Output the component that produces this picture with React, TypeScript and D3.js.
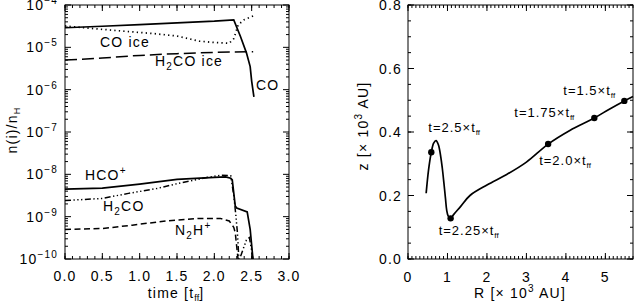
import React, { useEffect, useRef } from "react";
import * as d3 from "d3";

// left panel: abundances n(i)/n_H against time [t_ff]
const coTime = [0, 0.5, 1.0, 1.5, 2.0, 2.26, 2.35, 2.43, 2.48, 2.5, 2.53];
const coGas = [2.9e-5, 3.15e-5, 3.45e-5, 3.8e-5, 4.15e-5, 4.45e-5, 1.8e-5, 7.4e-6, 3.5e-6, 1.6e-6, 6.8e-7];

const coIceTime = [0, 0.4, 0.8, 1.2, 1.5, 1.8, 2.0, 2.2, 2.26, 2.32, 2.4, 2.52];
const coIce = [3.2e-5, 2.75e-5, 2.4e-5, 2.1e-5, 1.85e-5, 1.4e-5, 1.3e-5, 1.25e-5, 1.6e-5, 3.4e-5, 4.5e-5, 5.5e-5];

const h2coIceTime = [0, 0.5, 1.0, 1.5, 2.0, 2.52];
const h2coIce = [5.0e-6, 5.6e-6, 6.45e-6, 7.1e-6, 7.6e-6, 7.9e-6];

const hcoTime = [0, 0.5, 1.0, 1.5, 2.0, 2.15, 2.22, 2.24, 2.28, 2.3, 2.44, 2.48, 2.52];
const hcoPlus = [4.45e-9, 4.7e-9, 5.9e-9, 7.6e-9, 8.5e-9, 8.7e-9, 8.1e-9, 7.4e-9, 1.8e-9, 1.6e-9, 1.3e-9, 5e-10, 9e-11];

const h2coTime = [0, 0.5, 0.85, 1.25, 1.55, 1.85, 2.08, 2.22, 2.26, 2.29, 2.31, 2.33, 2.38, 2.43, 2.47, 2.5, 2.52];
const h2coGas = [2.4e-9, 2.7e-9, 3.55e-9, 4.7e-9, 6.3e-9, 8.1e-9, 9.5e-9, 9.3e-9, 3.2e-9, 1.0e-9, 4e-10, 9e-11, 1.6e-10, 2.8e-10, 3.2e-10, 1.6e-10, 9e-11];

const n2hTime = [0, 0.5, 0.9, 1.35, 1.8, 2.08, 2.2, 2.26, 2.28, 2.3, 2.32];
const n2hPlus = [5.0e-10, 5.25e-10, 6.3e-10, 7.9e-10, 9.1e-10, 9.1e-10, 7.9e-10, 5.6e-10, 4.2e-10, 1.95e-10, 9e-11];

const timeTicks = [0, 0.5, 1.0, 1.5, 2.0, 2.5, 3.0];
const decadeTicks = [-10, -9, -8, -7, -6, -5, -4];

// right panel: track in the R-z plane [10^3 AU]
const trackR = [0.46, 0.52, 0.59, 0.65, 0.71, 0.77, 0.83, 0.87, 0.91, 0.95, 0.98, 1.02, 1.08, 1.15, 1.33, 1.57, 2.0, 2.5, 3.0, 3.55, 4.1, 4.72, 5.1, 5.48, 5.7];
const trackZ = [0.207, 0.28, 0.336, 0.365, 0.373, 0.36, 0.322, 0.285, 0.239, 0.19, 0.154, 0.135, 0.128, 0.139, 0.165, 0.2, 0.233, 0.266, 0.305, 0.362, 0.405, 0.444, 0.472, 0.498, 0.512];

const markerR = [5.48, 4.72, 3.55, 1.08, 0.59];
const markerZ = [0.498, 0.444, 0.362, 0.128, 0.336];
const markerTime = ["1.5", "1.75", "2.0", "2.25", "2.5"];

const rTicks = [0, 1, 2, 3, 4, 5];
const zTicks = [0.0, 0.2, 0.4, 0.6, 0.8];

export default function App() {
    const svgRef = useRef(null);

    useEffect(() => {
        const svg = d3.select(svgRef.current);
        svg.selectAll("*").remove();

        const font = "'Liberation Sans', Arial, Helvetica, sans-serif";
        const fs = 14;
        svg.attr("font-family", font).attr("font-size", fs).attr("letter-spacing", 1.2);

        //helper: draw box with inward ticks on all sides
        const frame = (x, y, xMaj, xMin, yMaj, yMin, majLen, minLen) => {
            const [x0, x1] = x.range();
            const [y0, y1] = y.range();
            const g = svg.append("g").attr("stroke", "#000").attr("stroke-width", 1);
            g.append("rect").attr("x", x0).attr("y", y1).attr("width", x1 - x0).attr("height", y0 - y1).attr("fill", "none");
            const tick = (v, len, axis) => {
                if (axis === "x") {
                    const px = x(v);
                    g.append("line").attr("x1", px).attr("x2", px).attr("y1", y0).attr("y2", y0 - len);
                    g.append("line").attr("x1", px).attr("x2", px).attr("y1", y1).attr("y2", y1 + len);
                } else {
                    const py = y(v);
                    g.append("line").attr("y1", py).attr("y2", py).attr("x1", x0).attr("x2", x0 + len);
                    g.append("line").attr("y1", py).attr("y2", py).attr("x1", x1).attr("x2", x1 - len);
                }
            };
            xMin.forEach((v) => tick(v, minLen, "x"));
            xMaj.forEach((v) => tick(v, majLen, "x"));
            yMin.forEach((v) => tick(v, minLen, "y"));
            yMaj.forEach((v) => tick(v, majLen, "y"));
        };

        // ---------- left panel ----------
        const xL = d3.scaleLinear().domain([0, 3]).range([65, 289]);
        const yL = d3.scaleLog().domain([1e-10, 1e-4]).range([259, 5]);

        const minorLogs = [];
        decadeTicks.slice(0, -1).forEach((d) => {
            for (let k = 2; k <= 9; k++) minorLogs.push(k * Math.pow(10, d));
        });
        frame(xL, yL,
            timeTicks,
            d3.range(0, 31).map((i) => i / 10),
            decadeTicks.map((d) => Math.pow(10, d)),
            minorLogs, 6, 3);

        svg.append("clipPath").attr("id", "clipL")
            .append("rect").attr("x", 65).attr("y", 5).attr("width", 224).attr("height", 254);

        const lineL = d3.line().x((d) => xL(d[0])).y((d) => yL(d[1]));
        const seriesL = [
            { t: coTime, v: coGas, dash: null, w: 1.7 },
            { t: coIceTime, v: coIce, dash: "1.3 3.2", w: 1.7 },
            { t: h2coIceTime, v: h2coIce, dash: "12 5", w: 1.5 },
            { t: hcoTime, v: hcoPlus, dash: null, w: 1.7 },
            { t: h2coTime, v: h2coGas, dash: "6 2.5 1.3 2.5 1.3 2.5 1.3 2.5", w: 1.5 },
            { t: n2hTime, v: n2hPlus, dash: "6 3.5", w: 1.5 },
        ];
        const gl = svg.append("g").attr("clip-path", "url(#clipL)");
        seriesL.forEach((s) => {
            gl.append("path")
                .datum(s.t.map((t, i) => [t, s.v[i]]))
                .attr("fill", "none")
                .attr("stroke", "#000")
                .attr("stroke-width", s.w)
                .attr("stroke-dasharray", s.dash)
                .attr("d", lineL);
        });

        //tick labels
        timeTicks.forEach((t) => {
            svg.append("text").attr("x", xL(t)).attr("y", 281).attr("text-anchor", "middle").text(t.toFixed(1));
        });
        decadeTicks.forEach((d) => {
            const tx = svg.append("text").attr("x", 58).attr("y", yL(Math.pow(10, d)) + 5).attr("text-anchor", "end");
            tx.append("tspan").text("10");
            tx.append("tspan").attr("dy", -6).attr("font-size", 10).text("\u2212" + Math.abs(d));
        });

        //axis titles
        const xt = svg.append("text").attr("x", 176).attr("y", 298).attr("text-anchor", "middle");
        xt.append("tspan").text("time [t");
        xt.append("tspan").attr("dy", 3).attr("font-size", 9).attr("letter-spacing", 0).text("ff");
        xt.append("tspan").attr("dy", -3).text("]");

        const yt = svg.append("text").attr("transform", "translate(17,130) rotate(-90)").attr("text-anchor", "middle");
        yt.append("tspan").text("n(i)/n");
        yt.append("tspan").attr("dy", 3).attr("font-size", 9).text("H");

        //curve labels
        const label = (x, y, parts) => {
            const tx = svg.append("text").attr("x", x).attr("y", y);
            let shift = 0;
            parts.forEach(([s, kind]) => {
                const target = kind === "sub" ? 4 : kind === "sup" ? -6 : 0;
                const ts = tx.append("tspan").attr("dy", target - shift).text(s);
                if (kind) ts.attr("font-size", 10);
                shift = target;
            });
        };
        label(100, 47, [["CO ice"]]);
        label(155, 66, [["H"], ["2", "sub"], ["CO ice"]]);
        label(256, 90, [["CO"]]);
        label(85, 180, [["HCO"], ["+", "sup"]]);
        label(103, 211, [["H"], ["2", "sub"], ["CO"]]);
        label(175, 235, [["N"], ["2", "sub"], ["H"], ["+", "sup"]]);

        // ---------- right panel ----------
        const xR = d3.scaleLinear().domain([0, 5.7]).range([408, 633]);
        const yR = d3.scaleLinear().domain([0, 0.8]).range([259, 5]);

        frame(xR, yR,
            rTicks,
            d3.range(0, 58).map((i) => i / 10),
            zTicks,
            d3.range(0, 17).map((i) => i * 0.05), 6, 3);

        svg.append("path")
            .datum(trackR.map((r, i) => [r, trackZ[i]]))
            .attr("fill", "none")
            .attr("stroke", "#000")
            .attr("stroke-width", 1.7)
            .attr("d", d3.line().x((d) => xR(d[0])).y((d) => yR(d[1])).curve(d3.curveCatmullRom.alpha(0.5)));

        //time markers with labels (offsets in px)
        const labelOffset = [[-61, -6], [-80, -1], [-9, 21], [-12, 17], [-3, -20]];
        markerR.forEach((r, i) => {
            const cx = xR(r), cy = yR(markerZ[i]);
            svg.append("circle").attr("cx", cx).attr("cy", cy).attr("r", 3.2).attr("fill", "#000");
            const tx = svg.append("text")
                .attr("x", cx + labelOffset[i][0]).attr("y", cy + labelOffset[i][1])
                .attr("font-size", 13).attr("letter-spacing", 1);
            tx.append("tspan").text("t=" + markerTime[i] + "\u00d7t");
            tx.append("tspan").attr("dy", 3).attr("font-size", 8).attr("letter-spacing", 0).text("ff");
        });

        rTicks.forEach((r) => {
            svg.append("text").attr("x", xR(r)).attr("y", 282).attr("text-anchor", "middle").text(r);
        });
        zTicks.forEach((z) => {
            svg.append("text").attr("x", 402).attr("y", yR(z) + 5).attr("text-anchor", "end").text(z.toFixed(1));
        });

        const rt = svg.append("text").attr("x", 520).attr("y", 298).attr("text-anchor", "middle");
        rt.append("tspan").text("R [\u00d7 10");
        rt.append("tspan").attr("dy", -6).attr("font-size", 10).text("3");
        rt.append("tspan").attr("dy", 6).text(" AU]");

        const zt = svg.append("text").attr("transform", "translate(368,126) rotate(-90)").attr("text-anchor", "middle");
        zt.append("tspan").text("z [\u00d7 10");
        zt.append("tspan").attr("dy", -6).attr("font-size", 10).text("3");
        zt.append("tspan").attr("dy", 6).text(" AU]");
    }, []);

    return (
        <svg
            ref={svgRef}
            width={634}
            height={306}
            style={{ position: "absolute", left: 0, top: 0, background: "#fff" }}
        ></svg>
    );
}
